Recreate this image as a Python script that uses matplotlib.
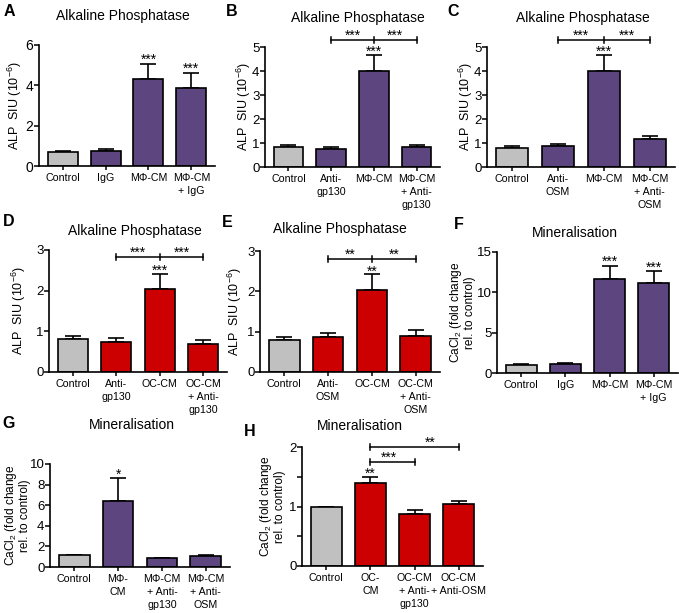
import numpy as np
import matplotlib
matplotlib.use("Agg")
import matplotlib.pyplot as plt

plt.rcParams['font.family'] = ['Liberation Sans', 'DejaVu Sans']
plt.rcParams['mathtext.fontset'] = 'custom'
plt.rcParams['mathtext.rm'] = 'Liberation Sans'
plt.rcParams['mathtext.it'] = 'Liberation Sans:italic'
plt.rcParams['mathtext.bf'] = 'Liberation Sans:bold'

GREY = '#c0c0c0'
PURPLE = '#5d4680'
RED = '#cc0000'

# ---- data ----
a_labels = ['Control', 'IgG', 'MΦ-CM', 'MΦ-CM\n+ IgG']
a_vals = [0.67, 0.76, 4.32, 3.87]
a_err = [0.09, 0.09, 0.74, 0.74]

b_labels = ['Control', 'Anti-\ngp130', 'MΦ-CM', 'MΦ-CM\n+ Anti-\ngp130']
b_vals = [0.82, 0.75, 4.0, 0.85]
b_err = [0.08, 0.08, 0.68, 0.08]

c_labels = ['Control', 'Anti-\nOSM', 'MΦ-CM', 'MΦ-CM\n+ Anti-\nOSM']
c_vals = [0.8, 0.87, 4.0, 1.15]
c_err = [0.08, 0.09, 0.68, 0.14]

d_labels = ['Control', 'Anti-\ngp130', 'OC-CM', 'OC-CM\n+ Anti-\ngp130']
d_vals = [0.8, 0.73, 2.04, 0.7]
d_err = [0.08, 0.1, 0.38, 0.08]

e_labels = ['Control', 'Anti-\nOSM', 'OC-CM', 'OC-CM\n+ Anti-\nOSM']
e_vals = [0.8, 0.87, 2.04, 0.9]
e_err = [0.08, 0.1, 0.38, 0.13]

f_labels = ['Control', 'IgG', 'MΦ-CM', 'MΦ-CM\n+ IgG']
f_vals = [1.0, 1.1, 11.7, 11.1]
f_err = [0.1, 0.1, 1.6, 1.5]

g_labels = ['Control', 'MΦ-\nCM', 'MΦ-CM\n+ Anti-\ngp130', 'MΦ-CM\n+ Anti-\nOSM']
g_vals = [1.15, 6.4, 0.85, 1.1]
g_err = [0.05, 2.2, 0.03, 0.05]

h_labels = ['Control', 'OC-\nCM', 'OC-CM\n+ Anti-\ngp130', 'OC-CM\n+ Anti-OSM']
h_vals = [1.0, 1.4, 0.87, 1.05]
h_err = [0.0, 0.1, 0.07, 0.04]

ALP = 'ALP  SIU (10$^{\\mathregular{-6}}$)'
CA = 'CaCl$_\\mathregular{2}$ (fold change\nrel. to control)'

W, H = 679, 613
fig = plt.figure(figsize=(W / 100, H / 100), dpi=100)


def box(l, t, r, b):
    return [l / W, 1 - b / H, (r - l) / W, (b - t) / H]


def bracket(ax, x1, x2, y, h, mid=None):
    kw = dict(color='black', lw=1.1, clip_on=False)
    ax.plot([x1, x2], [y, y], **kw)
    for x in [x1, x2] + ([mid] if mid is not None else []):
        ax.plot([x, x], [y - h, y + h], **kw)


def stars(ax, x, y, s, dy=0.0):
    ax.annotate(s, (x, y), xytext=(0, dy), textcoords='offset points',
                ha='center', va='baseline', fontsize=10, annotation_clip=False)


panels = [
    # letter, rect px, labels, vals, err, colours, ylim, yticks, ylabel, label x offset(px)
    ('A', (39, 45, 215, 166), a_labels, a_vals, a_err, [GREY] + [PURPLE] * 3, 6, [0, 2, 4, 6], ALP, -24),
    ('B', (265, 47, 440, 167), b_labels, b_vals, b_err, [GREY] + [PURPLE] * 3, 5, range(6), ALP, -21),
    ('C', (487, 47, 675, 167), c_labels, c_vals, c_err, [GREY] + [PURPLE] * 3, 5, range(6), ALP, -21),
    ('D', (49, 250, 227, 372), d_labels, d_vals, d_err, [GREY] + [RED] * 3, 3, range(4), ALP, -30),
    ('E', (260, 251, 440, 372), e_labels, e_vals, e_err, [GREY] + [RED] * 3, 3, range(4), ALP, -25),
    ('F', (497, 252, 678, 373), f_labels, f_vals, f_err, [GREY] + [PURPLE] * 3, 15, [0, 5, 10, 15], CA, -35),
    ('G', (50, 464, 230, 567), g_labels, g_vals, g_err, [GREY] + [PURPLE] * 3, 10, range(0, 11, 2), CA, -33),
    ('H', (302, 447, 483, 566), h_labels, h_vals, h_err, [GREY] + [RED] * 3, 2, [0, 1, 2], CA, -30),
]

titles = {'A': ('Alkaline Phosphatase', 123, 16), 'B': ('Alkaline Phosphatase', 358, 18),
          'C': ('Alkaline Phosphatase', 583, 18), 'D': ('Alkaline Phosphatase', 135, 231),
          'E': ('Alkaline Phosphatase', 340, 229), 'F': ('Mineralisation', 575, 233),
          'G': ('Mineralisation', 132, 425), 'H': ('Mineralisation', 360, 426)}
letters = {'A': (9, 12), 'B': (232, 12), 'C': (453, 12), 'D': (9, 221),
           'E': (227, 223), 'F': (459, 224), 'G': (9, 424), 'H': (250, 432)}

axes = {}
for key, rect, labels, vals, err, cols, ytop, yt, ylab, yoff in panels:
    ax = fig.add_axes(box(*rect))
    axes[key] = ax
    x = np.arange(len(vals))
    ax.bar(x, vals, width=0.7, color=cols, edgecolor='black', linewidth=1.2, zorder=2)
    ax.errorbar(x, vals, yerr=[np.zeros(len(err)), err], fmt='none', ecolor='black',
                elinewidth=1.2, capsize=5.5, capthick=1.2, zorder=1)
    ax.set_xlim(-0.55, 3.55)
    ax.set_ylim(0, ytop)
    ax.set_yticks(list(yt))
    ax.set_xticks(x)
    ax.set_xticklabels(labels, fontsize=7.7, linespacing=1.35)
    ax.tick_params(axis='y', labelsize=10 if key == 'A' else 9.5, length=3.5, width=1.1, pad=0.5)
    ax.tick_params(axis='x', length=3, width=1.1, pad=2)
    for s in ['top', 'right']:
        ax.spines[s].set_visible(False)
    for s in ['left', 'bottom']:
        ax.spines[s].set_linewidth(1.2)
    if ylab == ALP:
        ax.set_ylabel(ylab, fontsize=9, va='center')
    else:
        ax.set_ylabel(ylab, fontsize=8.6, linespacing=0.95, va='center')
    ax.yaxis.set_label_coords(yoff / (rect[2] - rect[0]), 0.5)
    t, tx, ty = titles[key]
    fig.text(tx / W, 1 - ty / H, t, ha='center', va='center', fontsize=10)
    lx, ly = letters[key]
    fig.text(lx / W, 1 - ly / H, key, ha='center', va='center', fontsize=11.5, fontweight='bold')

# significance marks
ax = axes['A']
stars(ax, 2, a_vals[2] + a_err[2], '***')
stars(ax, 3, a_vals[3] + a_err[3], '***')

for key, vals, err, yb, s in [('B', b_vals, b_err, 5.3, '***'), ('C', c_vals, c_err, 5.3, '***'),
                              ('D', d_vals, d_err, 2.83, '***'), ('E', e_vals, e_err, 2.8, '**')]:
    ax = axes[key]
    top = ax.get_ylim()[1]
    bracket(ax, 1, 3, yb, top * 0.025, mid=2)
    stars(ax, 1.5, yb, s)
    stars(ax, 2.5, yb, s)
    stars(ax, 2, vals[2] + err[2], s, dy=-1)

ax = axes['F']
stars(ax, 2, f_vals[2] + f_err[2], '***')
stars(ax, 3, f_vals[3] + f_err[3], '***')

ax = axes['G']
stars(ax, 1, g_vals[1] + g_err[1], '*')

ax = axes['H']
ax.set_yticks([0.5, 1.5], minor=True)
ax.tick_params(axis='y', which='minor', length=3.5, width=1.1)
bracket(ax, 1, 3, 2.0, 0.05)
stars(ax, 2.35, 2.0, '**')
bracket(ax, 1, 2, 1.75, 0.05)
stars(ax, 1.42, 1.75, '***')
stars(ax, 1, h_vals[1] + h_err[1], '**', dy=-1)

fig.savefig('out.png', dpi=100)
